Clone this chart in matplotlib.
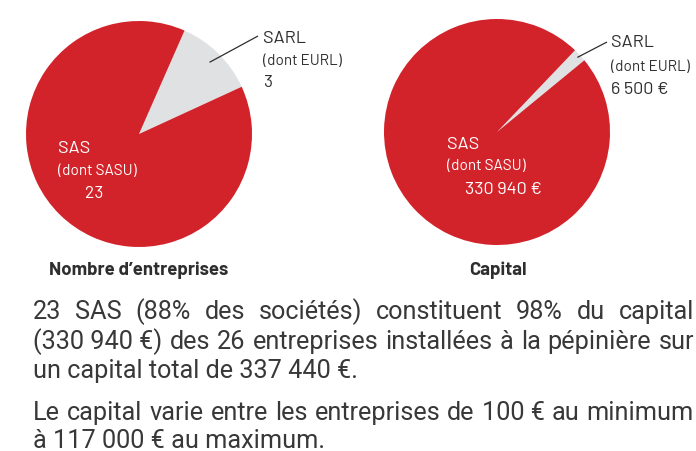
import matplotlib
matplotlib.use('Agg')
import matplotlib.pyplot as plt
import numpy as np

plt.rcParams['font.family'] = ['Barlow', 'DejaVu Sans']
PARA_FONT = ['Roboto', 'DejaVu Sans']

W, H = 696, 452
RED = '#D2232A'
GREY = '#E0E1E3'
DARK = '#2e2e2e'

# données
formes = ['SARL', 'SAS']
nb_entreprises = [3, 23]
capital = [6500, 330940]

lignes = [
    '23 SAS (88% des sociétés) constituent 98% du capital',
    '(330 940 €) des 26 entreprises installées à la pépinière sur',
    'un capital total de 337 440 €.',
    'Le capital varie entre les entreprises de 100 € au minimum',
    'à 117 000 € au maximum.',
]
justifiees = [True, True, False, True, False]

fig = plt.figure(figsize=(W / 100, H / 100), dpi=100)
ax = fig.add_axes([0, 0, 1, 1])

def Y(y):
    return H - y

R = 113
c1 = (139, Y(135))
c2 = (497, Y(133))

w1, _ = ax.pie(nb_entreprises, colors=[GREY, RED], startangle=24.7, radius=R,
               center=c1, wedgeprops=dict(linewidth=0))
w2, _ = ax.pie(capital, colors=[GREY, RED], startangle=39.4, radius=R,
               center=c2, wedgeprops=dict(linewidth=0))
ax.set_xlim(0, W)
ax.set_ylim(0, H)
ax.set_aspect('equal')
ax.axis('off')

def leader(wedge, c, frac, x_end, y_end):
    a = np.deg2rad((wedge.theta1 + wedge.theta2) / 2)
    x0 = c[0] + frac * R * np.cos(a)
    y0 = c[1] + frac * R * np.sin(a)
    ax.plot([x0, x_end], [y0, Y(y_end)], color=DARK, lw=0.9, solid_capstyle='butt')

leader(w1[0], c1, 0.89, 258, 37)
leader(w2[0], c2, 0.97, 607, 43)

def label(x, y, s, size, color, **kw):
    ax.text(x, Y(y), s, fontsize=size, color=color, va='baseline', ha='left', **kw)

def euros(v):
    return f'{v:,}'.replace(',', '\u00a0') + '\u00a0€'

# camembert gauche
label(58, 153, 'SAS', 13, 'white')
label(58, 175, '(dont SASU)', 11, 'white')
label(85, 198, str(nb_entreprises[1]), 12.5, 'white')
label(263, 43, 'SARL', 13, DARK)
label(263, 65, '(dont EURL)', 11, DARK)
label(263, 87, str(nb_entreprises[0]), 12.5, DARK)

# camembert droit
label(447, 149, 'SAS', 13, 'white')
label(447, 170, '(dont SASU)', 11, 'white')
label(465, 194, euros(capital[1]), 13, 'white')
label(611, 47, 'SARL', 13, DARK)
label(611, 71, '(dont EURL)', 11, DARK)
label(611, 94, euros(capital[0]), 13, DARK)

ax.text(139, Y(275), 'Nombre d\u2019entreprises', fontsize=13.3, fontweight='bold',
        color=DARK, ha='center', va='baseline')
ax.text(498, Y(275), 'Capital', fontsize=13.3, fontweight='bold',
        color=DARK, ha='center', va='baseline')

# paragraphe justifié ; taille ajustée pour que la 3e ligne fasse ~325 px
x0, x1 = 33, 694
bases = [319, 349, 378, 420, 448]
renderer = fig.canvas.get_renderer()
essai = ax.text(0, 0, lignes[2], fontsize=17, family=PARA_FONT)
taille = 17 * 325 / essai.get_window_extent(renderer).width
essai.remove()

for ligne, yb, just in zip(lignes, bases, justifiees):
    kw = dict(fontsize=taille, color='#383838', va='baseline', ha='left', family=PARA_FONT)
    if not just:
        ax.text(x0, Y(yb), ligne, **kw)
        continue
    mots = ligne.replace('0 €', '0\u00a0€').replace('330 940', '330\u00a0940').split(' ')
    txts = [ax.text(0, Y(yb), m, **kw) for m in mots]
    larg = [t.get_window_extent(renderer).width for t in txts]
    gap = (x1 - x0 - sum(larg)) / (len(mots) - 1)
    x = x0
    for t, w in zip(txts, larg):
        t.set_x(x)
        x += w + gap

fig.savefig('out.png', dpi=100)
